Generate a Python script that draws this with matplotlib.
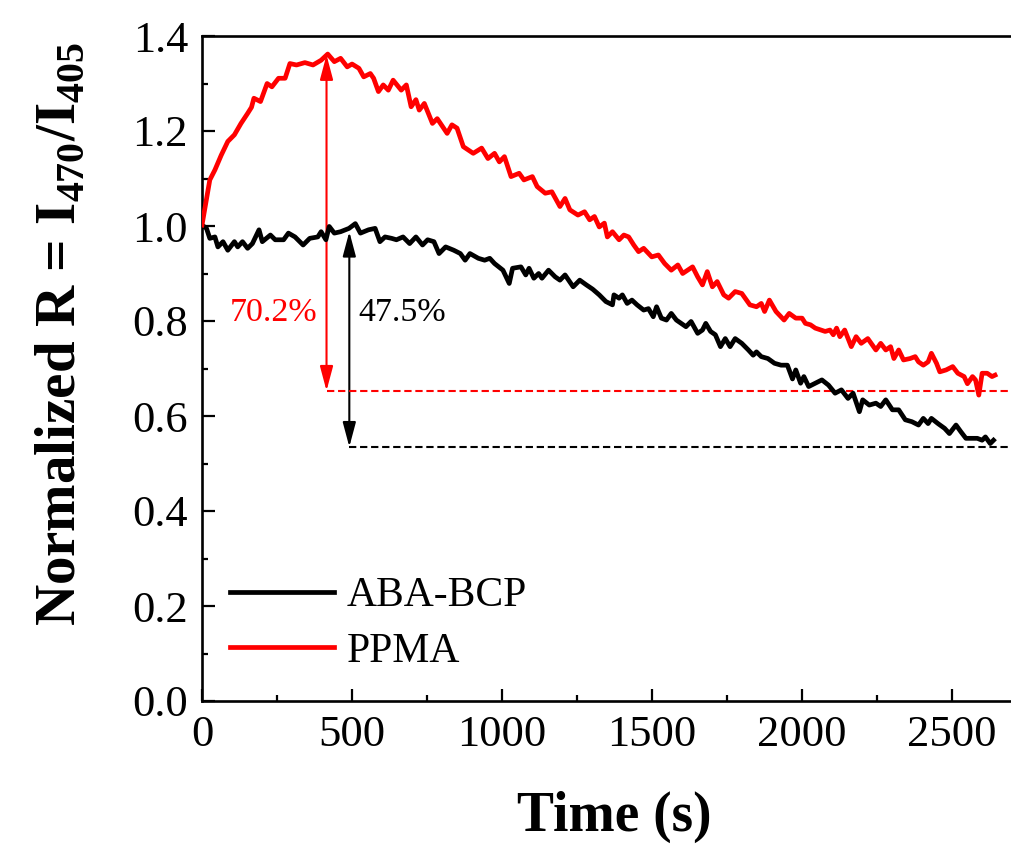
import matplotlib
matplotlib.use("Agg")
import matplotlib.pyplot as plt

plt.rcParams['font.family'] = ['Liberation Serif', 'DejaVu Serif']
plt.rcParams['mathtext.fontset'] = 'custom'
plt.rcParams['mathtext.rm'] = 'Liberation Serif'
plt.rcParams['mathtext.bf'] = 'Liberation Serif:bold'

# ---------------- data ----------------
red_t = [0, 26, 43, 64, 86, 108, 130, 152, 165, 173, 195, 217, 233, 255, 277, 293, 315, 343, 370, 397,
         419, 441, 462, 484, 500, 523, 539, 561, 572, 588, 604, 621, 637, 664, 681, 697, 713, 724, 741, 768,
         784, 817, 833, 850, 871, 904, 932, 953, 975, 991, 1008, 1030, 1057, 1073, 1101, 1117, 1144, 1166,
         1193, 1210, 1226, 1253, 1275, 1292, 1308, 1324, 1341, 1351, 1368, 1390, 1406, 1422, 1439, 1455,
         1472, 1499, 1521, 1542, 1564, 1586, 1602, 1635, 1652, 1668, 1684, 1701, 1717, 1739, 1755, 1777,
         1799, 1826, 1848, 1864, 1875, 1891, 1913, 1940, 1957, 1979, 2000, 2011, 2028, 2044, 2077, 2093,
         2104, 2115, 2126, 2142, 2164, 2180, 2197, 2219, 2246, 2262, 2279, 2295, 2306, 2322, 2338, 2360,
         2377, 2388, 2404, 2420, 2431, 2448, 2459, 2480, 2502, 2519, 2540, 2551, 2568, 2578, 2589, 2600,
         2617, 2633, 2643]
red_y = [1.002, 1.097, 1.118, 1.149, 1.178, 1.192, 1.216, 1.237, 1.250, 1.269, 1.262, 1.300, 1.293, 1.311,
         1.311, 1.342, 1.339, 1.344, 1.339, 1.349, 1.362, 1.346, 1.353, 1.335, 1.341, 1.332, 1.314, 1.321,
         1.311, 1.283, 1.297, 1.286, 1.307, 1.286, 1.297, 1.251, 1.266, 1.244, 1.258, 1.216, 1.226, 1.195,
         1.213, 1.206, 1.167, 1.153, 1.164, 1.142, 1.153, 1.135, 1.146, 1.104, 1.111, 1.097, 1.104, 1.083,
         1.069, 1.072, 1.041, 1.058, 1.034, 1.023, 1.030, 1.013, 1.020, 0.998, 1.006, 0.977, 0.988, 0.971,
         0.981, 0.977, 0.960, 0.946, 0.953, 0.935, 0.939, 0.921, 0.907, 0.918, 0.900, 0.914, 0.893, 0.876,
         0.904, 0.872, 0.883, 0.855, 0.848, 0.862, 0.858, 0.834, 0.830, 0.837, 0.820, 0.844, 0.820, 0.802,
         0.816, 0.806, 0.806, 0.795, 0.792, 0.785, 0.778, 0.781, 0.771, 0.785, 0.767, 0.781, 0.746, 0.767,
         0.753, 0.763, 0.739, 0.753, 0.739, 0.746, 0.721, 0.739, 0.718, 0.721, 0.725, 0.714, 0.707, 0.714,
         0.732, 0.711, 0.693, 0.697, 0.704, 0.690, 0.683, 0.668, 0.683, 0.676, 0.644, 0.690, 0.690, 0.683,
         0.686]

black_t = [0, 15, 26, 43, 53, 70, 86, 108, 119, 135, 152, 168, 190, 201, 228, 244, 272, 288, 310, 337,
           359, 386, 397, 413, 424, 441, 462, 490, 511, 528, 555, 577, 593, 610, 632, 648, 670, 692, 713,
           735, 752, 773, 790, 812, 839, 861, 877, 893, 921, 942, 959, 975, 1003, 1024, 1035, 1063, 1079,
           1090, 1106, 1122, 1133, 1155, 1177, 1193, 1210, 1237, 1259, 1281, 1302, 1324, 1346, 1368, 1373,
           1390, 1401, 1417, 1433, 1450, 1472, 1488, 1504, 1515, 1531, 1548, 1564, 1581, 1597, 1613, 1630,
           1652, 1668, 1679, 1695, 1711, 1728, 1744, 1760, 1777, 1799, 1821, 1837, 1848, 1864, 1886, 1908,
           1930, 1951, 1968, 1979, 1995, 2006, 2022, 2044, 2066, 2088, 2110, 2131, 2153, 2170, 2191, 2202,
           2224, 2246, 2262, 2279, 2301, 2322, 2344, 2366, 2388, 2404, 2420, 2431, 2453, 2475, 2491, 2513,
           2529, 2546, 2568, 2584, 2600, 2611, 2627, 2638]
black_y = [1.002, 0.995, 0.974, 0.977, 0.956, 0.967, 0.949, 0.967, 0.956, 0.967, 0.953, 0.963, 0.992,
           0.967, 0.981, 0.971, 0.971, 0.985, 0.977, 0.960, 0.974, 0.977, 0.988, 0.971, 0.999, 0.985,
           0.988, 0.995, 1.005, 0.985, 0.992, 0.995, 0.967, 0.977, 0.974, 0.971, 0.977, 0.963, 0.977,
           0.960, 0.971, 0.967, 0.942, 0.956, 0.949, 0.942, 0.928, 0.942, 0.932, 0.928, 0.932, 0.921,
           0.907, 0.879, 0.911, 0.914, 0.897, 0.911, 0.890, 0.900, 0.890, 0.907, 0.893, 0.886, 0.897,
           0.872, 0.886, 0.876, 0.867, 0.855, 0.841, 0.834, 0.855, 0.848, 0.855, 0.837, 0.844, 0.834,
           0.823, 0.826, 0.809, 0.830, 0.806, 0.802, 0.816, 0.802, 0.795, 0.788, 0.799, 0.774, 0.781,
           0.795, 0.778, 0.771, 0.746, 0.763, 0.746, 0.763, 0.753, 0.739, 0.728, 0.735, 0.725, 0.721,
           0.711, 0.707, 0.707, 0.678, 0.697, 0.669, 0.683, 0.662, 0.669, 0.676, 0.665, 0.648, 0.655,
           0.637, 0.648, 0.609, 0.634, 0.623, 0.627, 0.620, 0.634, 0.613, 0.613, 0.592, 0.588, 0.581,
           0.595, 0.584, 0.595, 0.584, 0.574, 0.563, 0.581, 0.567, 0.553, 0.553, 0.553, 0.549, 0.556,
           0.542, 0.549]

series_labels = ["ABA-BCP", "PPMA"]

red_arrow_t, red_top, red_bottom = 415, 1.360, 0.653
black_arrow_t, black_top, black_bottom = 491, 0.988, 0.535
red_pct, black_pct = "70.2%", "47.5%"

x_ticks = [0, 500, 1000, 1500, 2000, 2500]
y_ticks = [0.0, 0.2, 0.4, 0.6, 0.8, 1.0, 1.2, 1.4]

# ---------------- figure ----------------
W, H = 1011, 848
fig = plt.figure(figsize=(W / 100, H / 100), dpi=100)
ax_left, ax_bottom, ax_top = 202, 701, 36
xmax = 2700
ax_w = (966 - 202) / 2500 * xmax
ax = fig.add_axes([ax_left / W, (H - ax_bottom) / H, ax_w / W, (ax_bottom - ax_top) / H])

ax.plot(black_t, black_y, color='black', lw=3.4, label=series_labels[0], zorder=3)
ax.plot(red_t, red_y, color='#ff0000', lw=3.4, label=series_labels[1], zorder=3)

arrow_style = '<|-|>,head_length=0.75,head_width=0.2'
ax.annotate('', xy=(red_arrow_t, red_bottom), xytext=(red_arrow_t, red_top),
            arrowprops=dict(arrowstyle=arrow_style, color='#ff0000', lw=1.5,
                            mutation_scale=20, shrinkA=0, shrinkB=0), zorder=2)
ax.annotate('', xy=(black_arrow_t, black_bottom), xytext=(black_arrow_t, black_top),
            arrowprops=dict(arrowstyle=arrow_style, color='black', lw=1.5,
                            mutation_scale=20, shrinkA=0, shrinkB=0), zorder=2)
ax.plot([red_arrow_t, xmax], [red_bottom, red_bottom], color='#ff0000', lw=1.5,
        ls=(0, (3.5, 1.8)), zorder=2)
ax.plot([black_arrow_t, xmax], [black_bottom, black_bottom], color='black', lw=1.5,
        ls=(0, (3.5, 1.8)), zorder=2)

ax.text(92, 0.817, red_pct, color='#ff0000', fontsize=24.5, ha='left', va='center')
ax.text(520, 0.817, black_pct, color='black', fontsize=24.5, ha='left', va='center')

ax.set_xlim(0, xmax)
ax.set_ylim(0, 1.4)
ax.set_xticks(x_ticks)
ax.set_xticklabels([str(v) for v in x_ticks])
ax.set_yticks(y_ticks)
ax.set_yticklabels([f"{v:.1f}" for v in y_ticks])
ax.set_xticks([v + 250 for v in x_ticks], minor=True)
ax.set_yticks([v + 0.1 for v in y_ticks[:-1]], minor=True)
ax.tick_params(which='both', direction='in', width=1.6, labelsize=32)
ax.tick_params(which='major', length=9)
ax.tick_params(which='minor', length=4)
ax.tick_params(axis='x', pad=10)
ax.tick_params(axis='y', pad=10)
for s in ax.spines.values():
    s.set_linewidth(1.9)

ax.set_xlabel('Time (s)', fontsize=40, fontweight='bold')
ax.xaxis.set_label_coords(0.5, -0.135)
ax.set_ylabel(r'Normalized R = I$_{\mathbf{470}}$/I$_{\mathbf{405}}$', fontsize=41, fontweight='bold')
ax.yaxis.set_label_coords(-0.14, 0.552)

leg = ax.legend(loc='upper left', bbox_to_anchor=(0.034, 0.187), frameon=False, fontsize=30,
                handlelength=2.5, handletextpad=0.3, labelspacing=0.41, borderpad=0,
                borderaxespad=0)
for line in leg.get_lines():
    line.set_linewidth(3.4)

fig.savefig('out.png', dpi=100)
